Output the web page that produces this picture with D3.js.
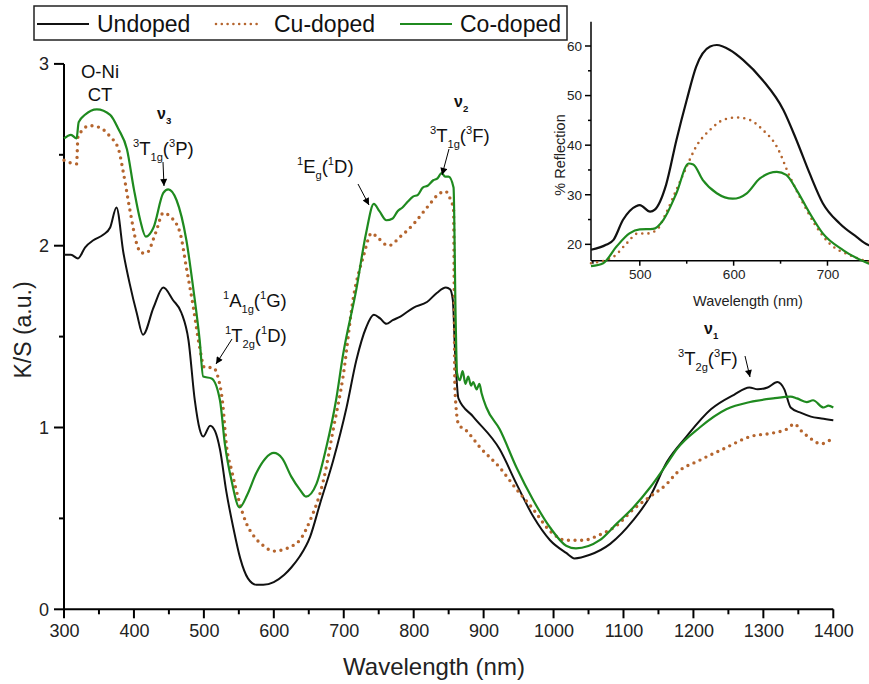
<!DOCTYPE html>
<html><head><meta charset="utf-8">
<script src="https://cdn.jsdelivr.net/npm/d3@7/dist/d3.min.js"></script>
<style>body{margin:0;background:#fff}svg{display:block;font-family:"Liberation Sans",Arial,sans-serif}</style>
</head><body><svg id="c" width="869" height="684"></svg>
<script>
// ---------- main chart data (wavelength nm, K/S) ----------
const undopedWl = [300,310,320,330,342,356,366,375,385,394,404,413,428,442,456,468,478,487,494,499,509,516,523,532,542,552,563,575,585,600,615,625,637,652,666,685,704,718,732,743,752,761,770,781,800,819,833,846,852,856,859,864,885,923,947,971,995,1018,1030,1052,1081,1114,1138,1162,1190,1225,1258,1280,1292,1306,1320,1330,1339,1354,1368,1383,1400];
const undopedKS = [1.95,1.95,1.93,1.99,2.03,2.06,2.10,2.21,1.96,1.79,1.63,1.51,1.66,1.77,1.70,1.63,1.48,1.15,0.99,0.95,1.01,0.98,0.88,0.65,0.45,0.28,0.17,0.135,0.135,0.15,0.19,0.23,0.29,0.40,0.58,0.82,1.11,1.37,1.55,1.62,1.60,1.57,1.59,1.61,1.66,1.69,1.74,1.77,1.76,1.70,1.43,1.16,1.06,0.88,0.69,0.51,0.38,0.31,0.28,0.30,0.36,0.49,0.62,0.81,0.95,1.10,1.18,1.22,1.21,1.22,1.25,1.21,1.11,1.08,1.06,1.05,1.04];

const cuWl = [300,318,320,337,351,366,378,385,395,404,411,418,431,442,452,466,475,485,494,501,513,520,527,532,540,550,560,572,585,600,615,627,637,652,671,685,699,714,728,740,747,764,781,800,819,838,845,853,857,859,864,876,895,923,947,971,995,1018,1042,1066,1090,1114,1138,1162,1176,1209,1247,1281,1314,1333,1345,1352,1364,1383,1397,1400];
const cuKS = [2.47,2.45,2.60,2.66,2.65,2.60,2.53,2.40,2.18,2.01,1.96,1.96,2.07,2.18,2.16,2.07,1.88,1.66,1.44,1.33,1.33,1.28,1.13,0.91,0.76,0.60,0.48,0.40,0.35,0.32,0.33,0.35,0.38,0.49,0.71,0.99,1.28,1.72,1.94,2.07,2.05,2.00,2.05,2.12,2.21,2.29,2.30,2.25,2.20,1.21,1.02,0.98,0.89,0.78,0.66,0.55,0.43,0.38,0.38,0.41,0.46,0.55,0.62,0.69,0.75,0.82,0.89,0.95,0.97,0.99,1.02,0.99,0.95,0.91,0.93,0.92];

const coWl = [300,310,318,321,330,347,366,378,390,400,409,417,428,442,449,461,475,485,494,499,511,523,530,540,551,562,575,588,600,612,625,637,646,661,675,689,699,718,732,743,751,761,770,777,784,791,799,806,813,820,828,834,840,845,850,857,860,862,866,870,874,878,882,885,890,894,897,904,923,947,971,995,1018,1032,1066,1090,1114,1138,1162,1176,1209,1247,1281,1314,1339,1348,1362,1371,1386,1393,1400];
const coKS = [2.59,2.61,2.59,2.68,2.72,2.75,2.72,2.64,2.53,2.31,2.14,2.05,2.10,2.29,2.31,2.25,2.03,1.76,1.48,1.28,1.27,1.15,0.91,0.70,0.56,0.63,0.75,0.83,0.86,0.83,0.73,0.66,0.62,0.69,0.89,1.15,1.40,1.76,2.07,2.23,2.19,2.14,2.15,2.19,2.21,2.24,2.27,2.28,2.32,2.33,2.36,2.37,2.40,2.38,2.38,2.32,1.60,1.30,1.26,1.31,1.24,1.28,1.23,1.25,1.21,1.24,1.19,1.11,0.99,0.78,0.60,0.45,0.35,0.335,0.38,0.47,0.56,0.67,0.80,0.88,1.00,1.10,1.14,1.16,1.17,1.16,1.14,1.15,1.11,1.12,1.11];

// ---------- inset data (wavelength nm, % reflection) ----------
const insUndWl = [448,464,472,482,496,500,511,516,528,539,550,560,575,582,596,610,631,653,667,681,695,713,731,743,752];
const insUndR  = [18.9,19.9,20.9,24.9,27.7,27.9,26.6,27.0,32.0,41.0,49.1,55.8,59.9,60.2,59.2,57.2,53.1,47.1,41.0,34.3,28.3,24.2,21.5,19.9,19.4];
const insCuWl = [448,472,486,498,508,518,528,539,550,560,575,589,603,617,631,646,660,674,688,702,724,743,752];
const insCuR  = [16.2,17.5,20.2,22.2,22.2,22.9,26.3,31.0,35.7,39.7,43.1,45.1,45.6,45.1,43.1,39.7,33.6,28.3,23.6,20.2,17.8,16.5,16.0];
const insCoWl = [448,461,475,489,500,514,525,539,552,557,567,582,599,614,628,646,656,667,681,695,717,743,752];
const insCoR  = [15.6,16.2,19.5,22.2,23.0,23.1,24.9,30.3,36.3,36.1,33.0,30.3,29.2,30.3,33.3,34.6,34.0,31.0,26.3,22.2,18.8,16.2,15.6];

const xTicksMain = [300,400,500,600,700,800,900,1000,1100,1200,1300,1400];
const xMinorMain = [350,450,550,650,750,850,950,1050,1150,1250,1350];
const yTicksMain = [0,1,2,3];
const yMinorMain = [0.5,1.5,2.5];
const xTicksInset = [500,600,700];
const xMinorInset = [450,550,650,750];
const yTicksInset = [20,30,40,50,60];
const yMinorInset = [25,35,45,55];
const seriesNames = ["Undoped","Cu-doped","Co-doped"];
const colors = {black:"#111111", cu:"#b5652e", co:"#1f8a1f"};

const svg = d3.select("#c");
svg.append("rect").attr("width",869).attr("height",684).attr("fill","#fff");

const defs = svg.append("defs");
defs.append("marker").attr("id","arr").attr("viewBox","0 0 10 10").attr("refX",10).attr("refY",5)
  .attr("markerWidth",10).attr("markerHeight",7).attr("markerUnits","userSpaceOnUse").attr("orient","auto")
  .append("path").attr("d","M0,0 L10,5 L0,10 Z").attr("fill","#000");

// ---------- scales ----------
const x = d3.scaleLinear().domain([300,1400]).range([64,833.3]);
const y = d3.scaleLinear().domain([0,3]).range([609.3,63.9]);
const xi = d3.scaleLinear().domain([448,750]).range([591,874.4]);
const yi = d3.scaleLinear().domain([16.7,64.9]).range([260.7,21.7]);

const FF = '"Liberation Sans",Arial,sans-serif';
// explicit axis drawing (lines from scales) + d3 axes for labels
function drawAxes(g, xs, ys, xMaj, xMin, yMaj, yMin, sw, majLen, minLen, fs, pad){
  const x0 = xs.range()[0], x1 = xs.range()[1], y0 = ys.range()[0], y1 = ys.range()[1];
  const ax = g.append("g").attr("stroke","#000").attr("stroke-width",sw).attr("fill","none");
  ax.append("line").attr("x1",x0).attr("x2",Math.min(x1,869)).attr("y1",y0).attr("y2",y0);
  ax.append("line").attr("x1",x0).attr("x2",x0).attr("y1",y0).attr("y2",y1);
  xMaj.forEach(v=>ax.append("line").attr("x1",xs(v)).attr("x2",xs(v)).attr("y1",y0).attr("y2",y0+majLen));
  xMin.forEach(v=>ax.append("line").attr("x1",xs(v)).attr("x2",xs(v)).attr("y1",y0).attr("y2",y0+minLen));
  yMaj.forEach(v=>ax.append("line").attr("x1",x0-majLen-1).attr("x2",x0).attr("y1",ys(v)).attr("y2",ys(v)));
  yMin.forEach(v=>ax.append("line").attr("x1",x0-minLen).attr("x2",x0).attr("y1",ys(v)).attr("y2",ys(v)));
  const gx = g.append("g").attr("transform",`translate(0,${y0})`)
    .call(d3.axisBottom(xs).tickValues(xMaj).tickSize(majLen).tickPadding(pad).tickSizeOuter(0).tickFormat(d3.format("d")));
  gx.select(".domain").remove(); gx.selectAll(".tick line").remove();
  gx.selectAll(".tick text").attr("fill","#222").style("font-size",fs+"px").style("font-family",FF);
  const gy = g.append("g").attr("transform",`translate(${x0},0)`)
    .call(d3.axisLeft(ys).tickValues(yMaj).tickSize(majLen).tickPadding(pad).tickSizeOuter(0).tickFormat(d3.format("d")));
  gy.select(".domain").remove(); gy.selectAll(".tick line").remove();
  gy.selectAll(".tick text").attr("fill","#222").style("font-size",fs+"px").style("font-family",FF);
}
drawAxes(svg.append("g"), x, y, xTicksMain, xMinorMain, yTicksMain, yMinorMain, 2, 9, 5, 18, 6);

svg.append("text").attr("x",434).attr("y",675).attr("text-anchor","middle").style("font-size","24px").attr("fill","#222").text("Wavelength (nm)");
svg.append("text").attr("transform","translate(31,330) rotate(-90)").attr("text-anchor","middle").style("font-size","23px").attr("fill","#222").text("K/S (a.u.)");

// ---------- main lines ----------
const mk = (wl, v) => wl.map((w,i)=>({w, v:v[i]}));
const line = d3.line().x(d=>x(d.w)).y(d=>y(d.v)).curve(d3.curveMonotoneX);
svg.append("path").datum(mk(undopedWl,undopedKS)).attr("d",line).attr("fill","none").attr("stroke",colors.black).attr("stroke-width",2);
svg.append("path").datum(mk(cuWl,cuKS)).attr("d",line).attr("fill","none").attr("stroke",colors.cu).attr("stroke-width",3.4).attr("stroke-linecap","round").attr("stroke-dasharray","0 6.6");
svg.append("path").datum(mk(coWl,coKS)).attr("d",line).attr("fill","none").attr("stroke",colors.co).attr("stroke-width",2.2);

// ---------- inset ----------
drawAxes(svg.append("g"), xi, yi, xTicksInset, xMinorInset, yTicksInset, yMinorInset, 1.5, 5, 3, 13.5, 4);
svg.append("text").attr("x",748).attr("y",306).attr("text-anchor","middle").style("font-size","14.5px").attr("fill","#222").text("Wavelength (nm)");
svg.append("text").attr("transform","translate(565,155) rotate(-90)").attr("text-anchor","middle").style("font-size","14.5px").attr("fill","#222").text("% Reflection");

const linei = d3.line().x(d=>xi(d.w)).y(d=>yi(d.v)).curve(d3.curveMonotoneX);
svg.append("path").datum(mk(insUndWl,insUndR)).attr("d",linei).attr("fill","none").attr("stroke",colors.black).attr("stroke-width",2.2);
svg.append("path").datum(mk(insCuWl,insCuR)).attr("d",linei).attr("fill","none").attr("stroke",colors.cu).attr("stroke-width",2.6).attr("stroke-linecap","round").attr("stroke-dasharray","0 6.2");
svg.append("path").datum(mk(insCoWl,insCoR)).attr("d",linei).attr("fill","none").attr("stroke",colors.co).attr("stroke-width",2.2);

// ---------- legend ----------
const lg = svg.append("g");
lg.append("rect").attr("x",34).attr("y",6).attr("width",533).attr("height",34).attr("fill","#fff").attr("stroke","#222").attr("stroke-width",1.5);
const legItems = [
  {name:seriesNames[0], x0:37, x1:89, tx:97, c:colors.black, dash:null, w:2.2},
  {name:seriesNames[1], x0:216, x1:260, tx:274, c:colors.cu, dash:"0 5.8", w:2.6},
  {name:seriesNames[2], x0:400, x1:452, tx:460, c:colors.co, dash:null, w:2.2}];
legItems.forEach(d=>{
  const l = lg.append("line").attr("x1",d.x0).attr("x2",d.x1).attr("y1",24).attr("y2",24).attr("stroke",d.c).attr("stroke-width",d.w);
  if(d.dash) l.attr("stroke-dasharray",d.dash).attr("stroke-linecap","round");
  lg.append("text").attr("x",d.tx).attr("y",32).style("font-size","23px").attr("fill","#111").text(d.name);
});

// ---------- annotations ----------
function rich(xp, yp, segs, fs, anchor){
  const t = svg.append("text").attr("x",xp).attr("y",yp).attr("fill","#111").style("font-size",fs+"px").attr("text-anchor",anchor||"start");
  let cur = 0;
  segs.forEach(s=>{
    let off = 0, size = fs;
    if(s[1]==="sup"){off=-fs*0.45; size=fs*0.6;}
    if(s[1]==="sub"){off=fs*0.3; size=fs*0.6;}
    const ts = t.append("tspan").attr("dy",off-cur).style("font-size",size+"px").text(s[0]);
    if(s[2]) ts.style("font-weight","bold");
    cur = off;
  });
  return t;
}
svg.append("text").attr("x",100).attr("y",78).attr("text-anchor","middle").style("font-size","18.5px").attr("fill","#111").text("O-Ni");
svg.append("text").attr("x",100).attr("y",101).attr("text-anchor","middle").style("font-size","18.5px").attr("fill","#111").text("CT");

rich(157,119,[["ν","n",1],["3","sub",1]],16);
rich(133,155,[["3","sup"],["T"],["1g","sub"],["("],["3","sup"],["P"],[")"]],18.5);
rich(223,307,[["1","sup"],["A"],["1g","sub"],["("],["1","sup"],["G"],[")"]],18.5);
rich(225,342,[["1","sup"],["T"],["2g","sub"],["("],["1","sup"],["D"],[")"]],18.5);
rich(297,173,[["1","sup"],["E"],["g","sub"],["("],["1","sup"],["D"],[")"]],18.5);
rich(454,107,[["ν","n",1],["2","sub",1]],16);
rich(430,142,[["3","sup"],["T"],["1g","sub"],["("],["3","sup"],["F"],[")"]],18.5);
rich(704,334,[["ν","n",1],["1","sub",1]],16);
rich(678,365,[["3","sup"],["T"],["2g","sub"],["("],["3","sup"],["F"],[")"]],18.5);

const arrows = [[163,162,164,186],[232,339,216,364],[358,184,369,205],[449,149,442,175],[745,356,750,377]];
arrows.forEach(a=>svg.append("line").attr("x1",a[0]).attr("y1",a[1]).attr("x2",a[2]).attr("y2",a[3])
  .attr("stroke","#000").attr("stroke-width",1).attr("marker-end","url(#arr)"));
</script></body></html>
